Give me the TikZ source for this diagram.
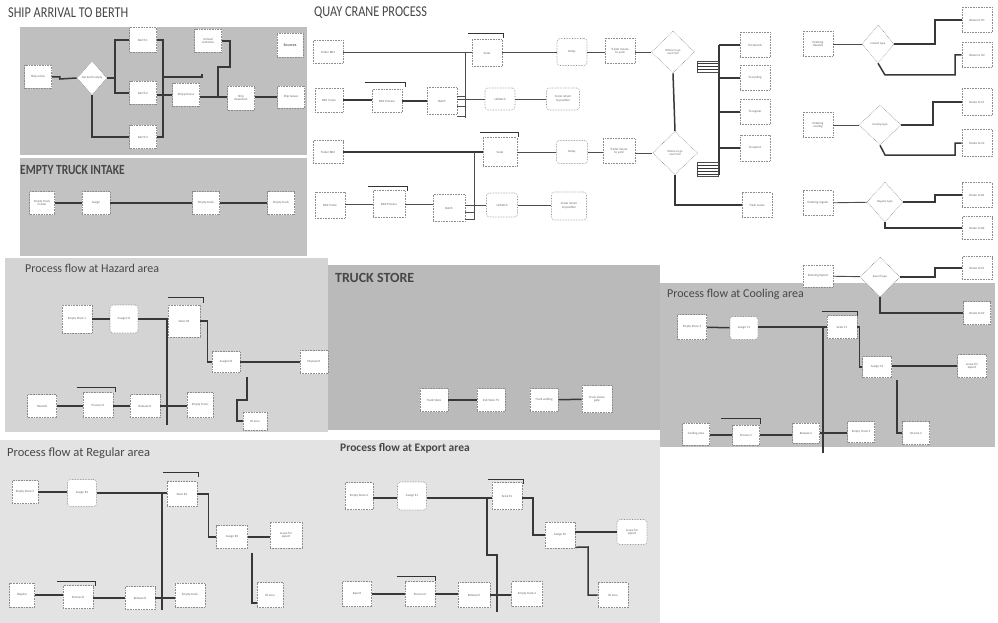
\documentclass[tikz,border=0pt]{standalone}
\usepackage{fontspec}
\setmainfont{Carlito}
\usetikzlibrary{shapes.geometric,calc}
\begin{document}
\begin{tikzpicture}[x=1pt,y=-1pt,
  bx/.style={draw=black!45,densely dotted,line width=0.6pt,fill=white,minimum width=28pt,minimum height=23pt,inner sep=1pt,align=center,font=\fontsize{3.2}{3.6}\selectfont,text=black!60},
  ob/.style={bx,rounded corners=3pt},
  dia/.style={diamond,draw=black!45,densely dotted,line width=0.6pt,fill=white,inner sep=0pt,align=center,font=\fontsize{3}{3.4}\selectfont,text=black!60},
  cn/.style={draw=black!78,line width=1.5pt},
  thin/.style={draw=black!70,line width=0.9pt},
  barst/.style={draw=black!80,line width=1.3pt},
  ttl/.style={anchor=west,text=black!72,inner sep=0pt},
  pnl/.style={draw=none}]
\useasboundingbox (0,0) rectangle (998,623);
\fill[white] (0,0) rectangle (998,623);
% ---------- panels
\fill[pnl,fill=black!25] (20,27) rectangle (307,155);
\fill[pnl,fill=black!24] (20,158) rectangle (307,256);
\fill[pnl,fill=black!17] (5,258) rectangle (328,432);
\fill[pnl,fill=black!27] (328,265) rectangle (660,430);
\fill[pnl,fill=black!25] (660,283) rectangle (995,447);
\fill[pnl,fill=black!11] (0,440) rectangle (330,623);
\fill[pnl,fill=black!11] (330,440) rectangle (660,623);
% ---------- titles
\node[ttl,font=\fontsize{15}{16}\selectfont,xscale=0.82] (t1) at (8,13) {SHIP ARRIVAL TO BERTH};
\node[ttl,font=\fontsize{14}{15}\selectfont\bfseries,xscale=0.82] (t2) at (20,170) {EMPTY TRUCK INTAKE};
\node[ttl,font=\fontsize{15}{16}\selectfont,xscale=0.82] (t3) at (314,13) {QUAY CRANE PROCESS};
\node[ttl,font=\fontsize{12}{13}\selectfont] (t4) at (25,268) {Process flow at Hazard area};
\node[ttl,font=\fontsize{14}{15}\selectfont\bfseries] (t5) at (335,278) {TRUCK STORE};
\node[ttl,font=\fontsize{12}{13}\selectfont] (t6) at (667,294) {Process flow at Cooling area};
\node[ttl,font=\fontsize{12.5}{13}\selectfont] (t7) at (7,453) {Process flow at Regular area};
\node[ttl,font=\fontsize{11.5}{12}\selectfont\bfseries] (t8) at (340,448) {Process flow at Export area};
% ---------- ship arrival
\node[bx,minimum width=27pt] (s1) at (38,77) {Ship arrive};
\node[dia,minimum width=30pt,minimum height=34pt] (sd) at (92,78) {Has berth empty};
\node[bx,minimum width=27pt,minimum height=25pt] (b1) at (143,40) {Berth 1};
\node[bx,minimum width=27pt] (b2) at (143,93) {Berth 2};
\node[bx,minimum width=27pt] (b3) at (143,137) {Berth 3};
\node[bx,minimum width=27pt] (su) at (186,95) {Ship process};
\node[bx,minimum width=27pt] (st) at (208,41) {Unload\\container};
\node[bx,minimum width=27pt,minimum height=24pt] (sw) at (241,98) {Ship\\departure};
\node[bx,minimum width=26pt,minimum height=24pt,font=\fontsize{4}{4.5}\selectfont\bfseries] (ss) at (290,45) {Sources};
\node[bx,minimum width=27pt,minimum height=22pt] (sx) at (291,97) {Ship leaves};
\coordinate (sj) at (115,78);
\coordinate (bj) at (163,40);
\coordinate (bk) at (202,77);
\coordinate (sk) at (218,97);
\draw[cn] (s1.east) -- ++(8,0) -- ++(0,2) -- (sd.west);
\draw[cn] (sd.east) -- (sj) |- (b1.west);
\draw[cn] (sj) |- (b2.west);
\draw[cn] (sd.south) |- (b3.west);
\draw[cn] (b1.east) -- (bj) |- (b3.east);
\draw[cn] (b2.east |- su.west) -- (su.west);
\draw[cn] (bj |- bk) -- (bk) -- ++(0,-3);
\draw[cn] (su.east |- sk) -- (sk) -- (sw.west |- sk);
\draw[cn] (sk) |- (230,67) |- (st.east);
\draw[cn] (sw.east |- sx.west) -- (sx.west);
% ---------- empty truck intake
\node[bx,minimum width=25pt] (e1) at (42,203) {Empty Truck\\Create};
\node[bx] (e2) at (96,203) {Assign};
\node[bx,minimum width=27pt] (e3) at (206,203) {Empty truck};
\node[bx,minimum width=27pt] (e4) at (281,203) {Empty truck};
\draw[cn] (e1) -- (e2); \draw[cn] (e2) -- (e3); \draw[cn] (e3) -- (e4);
% ---------- quay crane
\node[bx,minimum width=30pt] (q1) at (328,52) {Trailer BD1};
\node[bx,minimum width=30pt,minimum height=27pt] (q2) at (487,53) {Seize};
\node[ob,minimum width=30pt,minimum height=27pt] (q3) at (572,52) {Delay};
\node[bx,minimum width=30pt,minimum height=25pt] (q4) at (620,51) {Trailer moves\\to yard};
\node[dia,minimum width=43pt,minimum height=42pt] (qd1) at (673,52) {Where to go\\next Trail};
\node[bx,minimum width=28pt,minimum height=24pt] (q5) at (329,100) {BD1 Crane};
\node[bx,minimum width=30pt] (q6) at (387,101) {BD1 Process};
\node[bx,minimum width=30pt,minimum height=27pt] (q7) at (442,101) {Batch};
\node[ob,minimum width=30pt,minimum height=22pt] (q8) at (500,99) {Unbatch};
\node[ob,minimum width=33pt,minimum height=22pt] (q9) at (563,99) {Crane return\\to position};
\node[bx,minimum width=30pt] (q10) at (328,152) {Trailer BD2};
\node[bx,minimum width=34pt,minimum height=29pt] (q11) at (500,152) {Seize};
\node[ob,minimum width=31pt] (q12) at (572,152) {Delay};
\node[bx,minimum width=32pt,minimum height=25pt] (q13) at (619,151) {Trailer moves\\to yard};
\node[dia,minimum width=45pt,minimum height=43pt] (qd2) at (675,153) {Where to go\\next Trail};
\node[bx,minimum width=30pt,minimum height=26pt] (q14) at (330,205) {BD2 Crane};
\node[bx,minimum width=32pt,minimum height=27pt] (q15) at (389,204) {BD2 Process};
\node[bx,minimum width=32pt,minimum height=27pt] (q16) at (449,208) {Batch};
\node[ob,minimum width=31pt,minimum height=24pt] (q17) at (502,205) {Unbatch};
\node[ob,minimum width=35pt,minimum height=28pt] (q18) at (569,206) {Crane return\\to position};
\coordinate (qj1) at (465,52);
\coordinate (qj2) at (474,152);
\draw[thin] (q1.east) -- (q2.west |- q1.east);
\draw[thin] (qj1) -- ++(0,66);
\foreach \yy in {96,106,116} \draw[thin] (q7.east |- 0,\yy) -- (qj1 |- 0,\yy);
\draw[thin] (q2.east |- q3.west) -- (q3.west); \draw[thin] (q3.east) -- (q4.west |- q3.east);
\draw[thin] (q4.east |- qd1.west) -- (qd1.west);
\draw[cn] (q5.east) -- (q6.west |- q5.east); \draw[cn] (q6.east) -- (q7.west |- q6.east);
\draw[thin] (q7.east |- q8.west) -- (q8.west); \draw[thin] (q8) -- (q9);
\draw[cn] (q10.east) -- (q11.west |- q10.east);
\draw[thin] (qj2) -- ++(0,68);
\foreach \yy in {212,219} \draw[thin] (q16.east |- 0,\yy) -- (qj2 |- 0,\yy);
\draw[thin] (q11.east) -- (q12.west); \draw[thin] (q12.east) -- (q13.west |- q12.east);
\draw[thin] (q13.east |- qd2.west) -- (qd2.west);
\draw[thin] (q14.east |- q15.west) -- (q15.west); \draw[thin] (q15.east) -- (q16.west |- q15.east);
\draw[thin] (q16.east |- q17.west) -- (q17.west); \draw[thin] (q17.east) -- (q18.west |- q17.east);
\draw[barst] ([xshift=-4pt,yshift=6pt]q2.north west) -- ([xshift=1pt,yshift=6pt]q2.north east) -- ++(0,-5pt);
\draw[barst] ([xshift=-7pt,yshift=7pt]q6.north west) -- ([xshift=3pt,yshift=7pt]q6.north east) -- ++(0,-5pt);
\draw[barst] ([xshift=-3pt,yshift=5pt]q11.north west) -- ([xshift=1pt,yshift=5pt]q11.north east) -- ++(0,-5pt);
\draw[barst] ([xshift=-5pt,yshift=4pt]q15.north west) -- ([xshift=2pt,yshift=4pt]q15.north east) -- ++(0,-5pt);
% trailer routing
\node[bx,minimum width=30pt,minimum height=25pt] (tr1) at (755,45) {To Hazards};
\node[bx,minimum width=30pt,minimum height=25pt] (tr2) at (755,78) {To cooling};
\node[bx,minimum width=30pt,minimum height=25pt] (tr3) at (755,112) {To regular};
\node[bx,minimum width=30pt,minimum height=26pt] (tr4) at (755,148) {To export};
\node[bx,minimum width=30pt,minimum height=25pt] (trl) at (757,205) {Trash Leave};
\coordinate (tv) at (719,45);
\draw[cn] (tv) -- (tv |- 0,175);
\foreach \t in {tr1,tr2,tr3,tr4} \draw[cn] (tv |- \t.west) -- (\t.west);
\draw[thin] (697,61) rectangle (718,72);
\foreach \yy in {64,67,70} \draw[cn,line width=1pt] (697,\yy) -- (718,\yy);
\draw[thin] (697,162) rectangle (718,176);
\foreach \yy in {165,168,171,174} \draw[cn,line width=1pt] (697,\yy) -- (718,\yy);
\draw[cn] (qd1.south) -- (qd2.north);
\draw[cn] (qd2.south) |- (trl.west);
% ---------- right column routing
\node[bx,minimum width=30pt,minimum height=25pt] (r1) at (818,44) {Entering\\Hazards};
\node[dia,minimum width=32pt,minimum height=38pt] (rd1) at (878,44) {Hazard type};
\node[bx,minimum width=30pt,minimum height=25pt] (rh1) at (977,20) {Route to H1};
\node[bx,minimum width=30pt,minimum height=25pt] (rh2) at (977,55) {Route to H2};
\draw[thin] (r1) -- (rd1);
\draw[cn] (rd1.east) -- (935,44) |- (rh1.west);
\draw[cn] (rd1.south) -- (885,75) -- (955,75) |- (rh2.west);
\node[bx,minimum width=30pt,minimum height=25pt] (r2) at (818,125) {Entering\\cooling};
\node[dia,minimum width=42pt,minimum height=40pt] (rd2) at (880,125) {Cooling type};
\node[bx,minimum width=30pt,minimum height=27pt] (rc1) at (977,102) {Route to C1};
\node[bx,minimum width=30pt,minimum height=27pt] (rc2) at (977,143) {Route to C2};
\draw[thin] (r2) -- (rd2);
\draw[cn] (rd2.east) -- (933,125) |- (rc1.west);
\draw[cn] (rd2.south) -- (885,155) -- (955,155) |- (rc2.west);
\node[bx,minimum width=30pt,minimum height=25pt] (r3) at (818,203) {Entering regular};
\node[dia,minimum width=36pt,minimum height=40pt] (rd3) at (885,202) {Regular type};
\node[bx,minimum width=30pt,minimum height=25pt] (rr1) at (977,195) {Route to R1};
\node[bx,minimum width=30pt,minimum height=23pt] (rr2) at (977,228) {Route to R2};
\draw[thin] (r3) -- (rd3);
\draw[cn] (rd3.east) -- (935,202) |- (rr1.west);
\draw[cn] (rd3.south) |- (rr2.west);
\node[bx,minimum width=30pt,minimum height=22pt] (r4) at (818,276) {Entering Export};
\node[dia,minimum width=40pt,minimum height=40pt] (rd4) at (880,277) {Export type};
\node[bx,minimum width=30pt,minimum height=23pt] (re1) at (977,268) {Route to E1};
\node[bx,minimum width=27pt,minimum height=23pt] (re2) at (977,313) {Route to E2};
\draw[thin] (r4) -- (rd4);
\draw[cn] (rd4.east) -- (935,277) |- (re1.west);
\draw[cn] (rd4.south) |- (re2.west);
% ---------- hazard area
\node[bx,minimum width=30pt,minimum height=28pt] (h1) at (77,319) {Empty Store 1};
\node[ob,minimum width=28pt,minimum height=28pt] (h2) at (124,319) {Assign H1};
\node[bx,minimum width=32pt,minimum height=32pt] (h3) at (184,321) {Seize H1};
\node[bx,minimum width=28pt,minimum height=21pt] (h4) at (226,362) {Assign H2};
\node[bx,minimum width=28pt,minimum height=23pt] (h5) at (314,362) {Dispose H};
\node[bx,minimum width=29pt] (h6) at (42,406) {Hazards};
\node[bx,minimum width=30pt,minimum height=25pt] (h7) at (98,405) {Process H};
\node[bx,minimum width=30pt] (h8) at (145,406) {Release H};
\node[bx,minimum width=26pt,minimum height=25pt] (h9) at (200,405) {Empty Truck};
\node[bx,minimum width=24pt,minimum height=18pt] (h10) at (255,421) {ID area};
\coordinate (hj) at (167,319);
\draw[cn] (h1) -- (h2); \draw[cn] (h2.east) -- (h3.west |- h2.east);
\draw[cn] (hj) -- ++(0,106);
\draw[cn] (h3.east) -- ++(7,0) |- (h4.west);
\draw[cn] (h4.east) -- (h5.west);
\draw[cn] (h6.east) -- (h7.west |- h6.east); \draw[cn] (h7.east |- h8.west) -- (h8.west);
\draw[cn] (h8.east) -- (h9.west |- h8.east);
\draw[cn] (h10.west) -- (237,421) -- (237,400) -- (247,400) -- (247,377);
\draw[barst] ([xshift=0pt,yshift=7pt]h3.north west) -- ([xshift=3pt,yshift=7pt]h3.north east) -- ++(0,-5pt);
\draw[barst] ([xshift=-6pt,yshift=5pt]h7.north west) -- ([xshift=2pt,yshift=5pt]h7.north east) -- ++(0,-5pt);
% ---------- truck store
\node[bx] (ts1) at (434,400) {Truck Store};
\node[bx] (ts2) at (491,400) {Exit Store TS};
\node[bx] (ts3) at (544,400) {Truck waiting};
\node[bx,minimum width=30pt,minimum height=27pt] (ts4) at (597,399) {Truck leaves\\gate};
\draw[cn] (ts1) -- (ts2); \draw[cn] (ts3) -- (ts4);
% ---------- cooling area
\node[bx,minimum width=29pt,minimum height=25pt] (c1) at (692,327) {Empty Store 3};
\node[ob,minimum width=28pt] (c2) at (744,328) {Assign C1};
\node[bx,minimum width=30pt] (c3) at (842,327) {Seize C1};
\node[bx,minimum width=29pt,minimum height=21pt] (c4) at (877,367) {Assign C2};
\node[bx,minimum width=29pt,minimum height=23pt] (c5) at (972,366) {Leave for\\export};
\node[bx,minimum width=27pt] (c6) at (916,433) {ID area 2};
\node[bx,minimum width=27pt,minimum height=22pt] (c7) at (696,434) {Cooling area};
\node[bx,minimum width=27pt,minimum height=20pt] (c8) at (746,435) {Process C};
\node[bx,minimum width=27pt,minimum height=20pt] (c9) at (806,433) {Release C};
\node[bx,minimum width=27pt,minimum height=21pt] (c10) at (861,432) {Empty Truck 3};
\coordinate (cj) at (823,327);
\draw[cn] (c1) -- (c2); \draw[cn] (c2.east |- c3.west) -- (c3.west);
\draw[cn] (cj) -- ++(0,126);
\draw[cn] (c3.east) -- ++(2,0) |- (c4.west);
\draw[cn] (c4.east |- c5.west) -- (c5.west);
\draw[cn] (897,380) |- (c6.west);
\draw[cn] (c7.east |- c8.west) -- (c8.west); \draw[cn] (c8.east) -- (c9.west |- c8.east);
\draw[cn] (c9.east) -- (c10.west |- c9.east);
\draw[barst] ([xshift=-5pt,yshift=4pt]c3.north west) -- ([xshift=0pt,yshift=4pt]c3.north east) -- ++(0,-5pt);
\draw[barst] ([xshift=-11pt,yshift=6pt]c8.north west) -- ([xshift=1pt,yshift=6pt]c8.north east) -- ++(0,-5pt);
% ---------- regular area
\node[bx,minimum width=26pt] (g1) at (25,492) {Empty Store 2};
\node[ob,minimum width=29pt,minimum height=27pt] (g2) at (82,493) {Assign R1};
\node[bx,minimum width=30pt,minimum height=25pt] (g3) at (182,494) {Seize R1};
\node[bx,minimum width=31pt] (g4) at (232,537) {Assign R2};
\node[bx,minimum width=32pt,minimum height=26pt] (g5) at (286,535) {Leave for\\export};
\node[bx,minimum width=26pt,minimum height=25pt] (g6) at (270,595) {ID area};
\node[bx,minimum width=25pt,minimum height=24pt] (g7) at (22,595) {Regular};
\node[bx,minimum width=30pt] (g8) at (78,597) {Process R};
\node[bx,minimum width=30pt] (g9) at (140,598) {Release R};
\node[bx,minimum width=30pt,minimum height=24pt] (g10) at (190,595) {Empty truck};
\coordinate (gj) at (162,493);
\draw[cn] (g1) -- (g2.west |- g1.east); \draw[cn] (g2.east |- gj) -- (g3.west |- gj);
\draw[cn] (gj) -- ++(0,117);
\draw[cn] (g3.east) -- ++(11,0) |- (g4.west);
\draw[cn] (g4.east) -- (g5.west |- g4.east);
\draw[cn] (g6.west |- 0,603) -| (252,553);
\draw[cn] (g7.east) -- (g8.west |- g7.east); \draw[cn] (g8.east |- g9.west) -- (g9.west);
\draw[cn] (g9.east) -- (g10.west |- g9.east);
\draw[barst] ([xshift=-4pt,yshift=9pt]g3.north west) -- ([xshift=1pt,yshift=9pt]g3.north east) -- ++(0,-5pt);
\draw[barst] ([xshift=-6pt,yshift=4pt]g8.north west) -- ([xshift=2pt,yshift=4pt]g8.north east) -- ++(0,-5pt);
% ---------- export area
\node[bx,minimum width=28pt,minimum height=27pt] (x1) at (359,496) {Empty Store 4};
\node[ob,minimum width=29pt,minimum height=28pt] (x2) at (412,496) {Assign E1};
\node[bx,minimum width=30pt,minimum height=27pt] (x3) at (507,496) {Seize E1};
\node[bx,minimum width=30pt,minimum height=26pt] (x4) at (560,535) {Assign E2};
\node[ob,minimum width=30pt,minimum height=25pt] (x5) at (632,532) {Leave for\\export};
\node[bx,minimum width=30pt,minimum height=25pt] (x6) at (613,595) {ID area};
\node[bx,minimum width=29pt,minimum height=25pt] (x7) at (357,594) {Export};
\node[bx,minimum width=30pt,minimum height=25pt] (x8) at (420,594) {Process E};
\node[bx,minimum width=32pt,minimum height=25pt] (x9) at (474,595) {Release E};
\node[bx,minimum width=31pt,minimum height=25pt] (x10) at (527,594) {Empty truck 4};
\coordinate (xj) at (487,498);
\draw[cn] (x1.east |- xj) -- (x2.west |- xj); \draw[cn] (x2.east |- xj) -- (x3.west |- xj);
\draw[cn] (xj) -- (487,555) -- (497,555) -- (497,612);
\draw[cn] (x3.east |- xj) -- (533,498) |- (x4.west);
\draw[cn] (x4.east |- x5.west) -- (x5.west);
\draw[cn] (x4.south east) ++(0,-1) -- (588,547) |- (x6.west);
\draw[cn] (x7.east) -- (x8.west); \draw[cn] (x8.east) -- (x9.west |- x8.east);
\draw[cn] (x9.east) -- (x10.west |- x9.east);
\draw[barst] ([xshift=-4pt,yshift=3pt]x3.north west) -- ([xshift=1pt,yshift=3pt]x3.north east) -- ++(0,-5pt);
\draw[barst] ([xshift=-8pt,yshift=5pt]x8.north west) -- ([xshift=0pt,yshift=5pt]x8.north east) -- ++(0,-5pt);
\end{tikzpicture}
\end{document}
